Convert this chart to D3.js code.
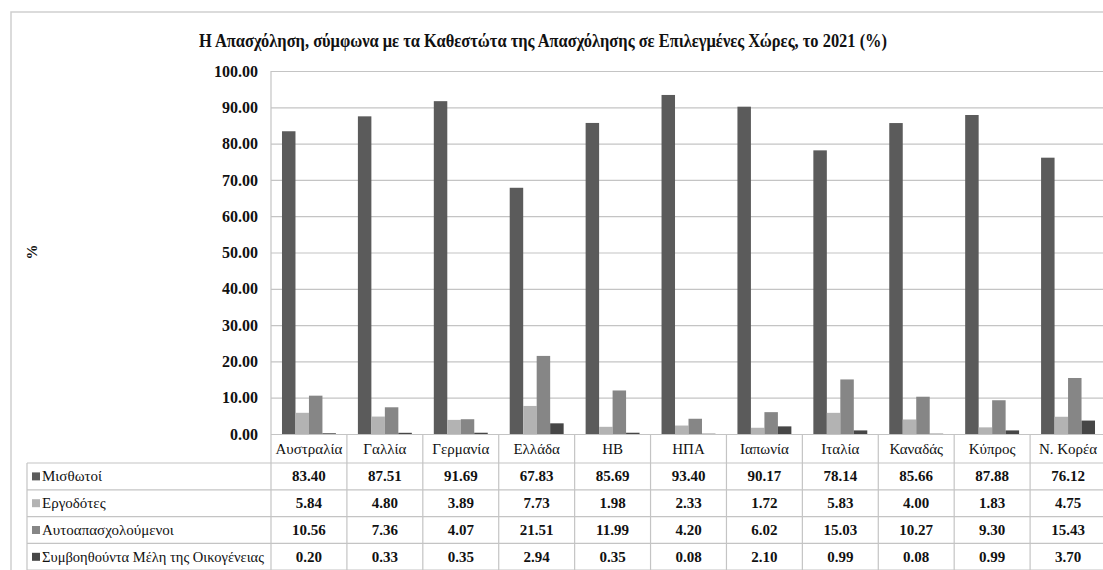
<!DOCTYPE html>
<html>
<head>
<meta charset="utf-8">
<script src="https://cdn.jsdelivr.net/npm/d3@7"></script>
<style>
  body { margin: 0; background: #fff; }
  text { font-family: "Liberation Serif", "Times New Roman", serif; fill: #111; }
</style>
</head>
<body>
<div id="chart"></div>
<script>
// data
const countries = ["Αυστραλία", "Γαλλία", "Γερμανία", "Ελλάδα", "ΗΒ", "ΗΠΑ", "Ιαπωνία", "Ιταλία", "Καναδάς", "Κύπρος", "Ν. Κορέα"];
const seriesNames = ["Μισθωτοί", "Εργοδότες", "Αυτοαπασχολούμενοι", "Συμβοηθούντα Μέλη της Οικογένειας"];
const misthotoi = [83.40, 87.51, 91.69, 67.83, 85.69, 93.40, 90.17, 78.14, 85.66, 87.88, 76.12];
const ergodotes = [5.84, 4.80, 3.89, 7.73, 1.98, 2.33, 1.72, 5.83, 4.00, 1.83, 4.75];
const autoapasx = [10.56, 7.36, 4.07, 21.51, 11.99, 4.20, 6.02, 15.03, 10.27, 9.30, 15.43];
const symvoith = [0.20, 0.33, 0.35, 2.94, 0.35, 0.08, 2.10, 0.99, 0.08, 0.99, 3.70];
const yTicks = [0, 10, 20, 30, 40, 50, 60, 70, 80, 90, 100];
const colors = ["#5b5b5b", "#b3b3b3", "#868686", "#464646"];

const values = [misthotoi, ergodotes, autoapasx, symvoith];
const title = "Η Απασχόληση, σύμφωνα με τα Καθεστώτα της Απασχόλησης σε Επιλεγμένες Χώρες, το 2021 (%)";

const width = 1103, height = 570;
const plotLeft = 271, plotRight = 1106, plotTop = 71, plotBottom = 434;
const tableLeft = 27, headerH = 29, rowH = 26.8;
const gridColor = "#c4c4c4";

const svg = d3.select("#chart").append("svg")
  .attr("width", width)
  .attr("height", height);

// outer frame
svg.append("path")
  .attr("d", `M11,${height} L11,12 L${width},12`)
  .attr("fill", "none")
  .attr("stroke", "#cfcfcf")
  .attr("stroke-width", 1.5);

const x = d3.scaleBand().domain(countries).range([plotLeft, plotRight]).padding(0);
const xs = d3.scaleBand().domain(d3.range(4)).range([0, x.bandwidth()]).paddingInner(0).paddingOuter(0.815);
const y = d3.scaleLinear().domain([0, 100]).range([plotBottom, plotTop]);

// gridlines + y labels
const yAxis = svg.append("g")
  .attr("transform", `translate(${plotLeft},0)`)
  .call(d3.axisLeft(y).tickValues(yTicks).tickFormat(d3.format(".2f"))
    .tickSize(-(plotRight - plotLeft)).tickPadding(13));
yAxis.select(".domain").remove();
yAxis.selectAll(".tick line").attr("stroke", gridColor).attr("stroke-width", 1.2);
yAxis.selectAll(".tick text")
  .attr("font-size", 16)
  .attr("font-weight", "bold")
  .attr("font-family", "Liberation Serif")
  .attr("fill", "#111");

// bars
values.forEach((vals, si) => {
  svg.append("g").selectAll("rect")
    .data(vals)
    .join("rect")
    .attr("x", (d, i) => x(countries[i]) + xs(si))
    .attr("width", xs.bandwidth())
    .attr("y", d => y(d))
    .attr("height", d => y(0) - y(d))
    .attr("fill", colors[si]);
});

// axis line
svg.append("line")
  .attr("x1", plotLeft).attr("x2", plotLeft)
  .attr("y1", plotTop).attr("y2", height)
  .attr("stroke", gridColor).attr("stroke-width", 1.2);

// data table
const tableBottom = plotBottom + headerH + rowH * 4;
const tbl = svg.append("g");

tbl.selectAll("line.col")
  .data(countries)
  .join("line")
  .attr("class", "col")
  .attr("x1", d => x(d) + x.bandwidth()).attr("x2", d => x(d) + x.bandwidth())
  .attr("y1", plotBottom).attr("y2", tableBottom)
  .attr("stroke", gridColor).attr("stroke-width", 1.2);

tbl.append("line")
  .attr("x1", tableLeft).attr("x2", tableLeft)
  .attr("y1", plotBottom + headerH).attr("y2", tableBottom)
  .attr("stroke", gridColor).attr("stroke-width", 1.2);

const rowTops = d3.range(5).map(r => plotBottom + headerH + r * rowH);
tbl.selectAll("line.row")
  .data(rowTops)
  .join("line")
  .attr("class", "row")
  .attr("x1", tableLeft).attr("x2", plotRight)
  .attr("y1", d => d).attr("y2", d => d)
  .attr("stroke", gridColor).attr("stroke-width", 1.2);

// squeeze a label into a max width if the fallback font runs wide
function fit(sel, maxW) {
  sel.each(function () {
    const w = this.getComputedTextLength();
    if (w > maxW) d3.select(this).attr("textLength", maxW).attr("lengthAdjust", "spacingAndGlyphs");
  });
}

// header: country names
tbl.selectAll("text.cat")
  .data(countries)
  .join("text")
  .attr("class", "cat")
  .attr("x", d => x(d) + x.bandwidth() / 2)
  .attr("y", plotBottom + headerH / 2 + 5)
  .attr("text-anchor", "middle")
  .attr("font-size", 15)
  .text(d => d)
  .call(fit, 68);

// rows
values.forEach((vals, si) => {
  const top = plotBottom + headerH + si * rowH;
  const row = tbl.append("g");
  row.append("rect")
    .attr("x", 32).attr("y", top + rowH / 2 - 4)
    .attr("width", 8).attr("height", 8)
    .attr("fill", colors[si]);
  row.append("text")
    .attr("x", 42)
    .attr("y", top + rowH / 2 + 5)
    .attr("font-size", 15)
    .text(seriesNames[si])
    .call(fit, 222);
  row.selectAll("text.val")
    .data(vals)
    .join("text")
    .attr("class", "val")
    .attr("x", (d, i) => x(countries[i]) + x.bandwidth() / 2)
    .attr("y", top + rowH / 2 + 5)
    .attr("text-anchor", "middle")
    .attr("font-size", 15)
    .attr("font-weight", "bold")
    .text(d => d3.format(".2f")(d));
});

// title
svg.append("text")
  .attr("x", 543)
  .attr("y", 47)
  .attr("text-anchor", "middle")
  .attr("font-size", 19)
  .attr("font-weight", "bold")
  .text(title)
  .call(fit, 688);

// y axis title
svg.append("text")
  .attr("transform", "translate(37,252) rotate(-90)")
  .attr("text-anchor", "middle")
  .attr("font-size", 15)
  .attr("font-weight", "bold")
  .text("%");
</script>
</body>
</html>
